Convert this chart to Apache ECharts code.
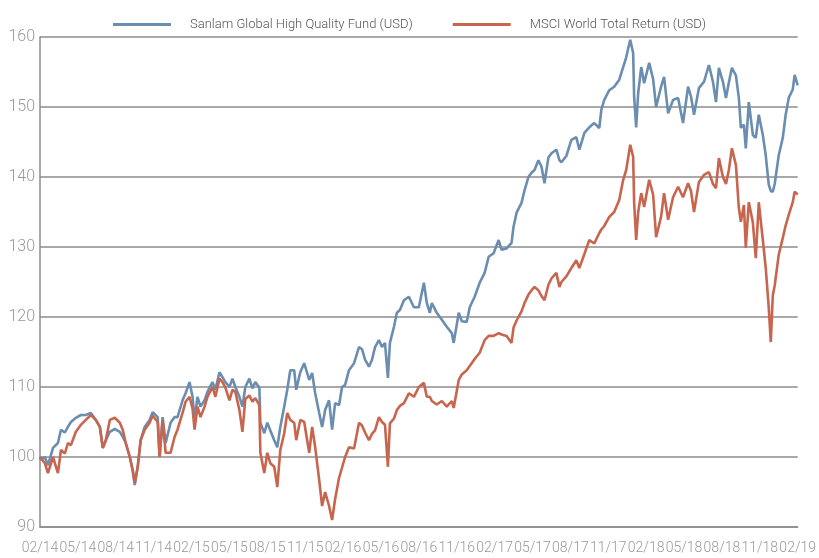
<!DOCTYPE html>
<html>
<head>
<meta charset="utf-8">
<script src="https://cdn.jsdelivr.net/npm/echarts@6/dist/echarts.min.js"></script>
<style>
  html, body { margin: 0; padding: 0; background: #fff; }
  #app { width: 819px; height: 558px; }
</style>
</head>
<body>
<div id="app"></div>
<script>
// months since Feb 2014
const months = [
  0, 0.08, 0.39, 0.63, 1.03, 1.42, 1.66, 1.97, 2.21, 2.45, 2.84, 3.24, 3.63, 4.03, 4.42, 4.74, 4.97, 5.21,
  5.53, 5.92, 6.32, 6.55, 6.79, 7.11, 7.34, 7.5, 7.74, 7.97, 8.29, 8.68, 8.92, 9.32, 9.47, 9.71, 9.95,
  10.34, 10.66, 10.89, 11.29, 11.53, 11.84, 12.08, 12.24, 12.47, 12.71, 13.03, 13.26, 13.66, 13.89,
  14.21, 14.45, 14.68, 15.0, 15.24, 15.47, 15.79, 16.03, 16.26, 16.58, 16.82, 17.05, 17.37, 17.45,
  17.76, 18.0, 18.24, 18.55, 18.79, 19.03, 19.34, 19.58, 19.82, 20.13, 20.29, 20.61, 20.92, 21.32,
  21.55, 21.79, 22.11, 22.34, 22.58, 22.89, 23.13, 23.37, 23.68, 23.92, 24.16, 24.47, 24.87, 25.26,
  25.5, 25.74, 26.05, 26.29, 26.53, 26.84, 27.08, 27.32, 27.55, 27.71, 28.03, 28.26, 28.5, 28.82,
  29.21, 29.61, 30.0, 30.4, 30.63, 30.87, 31.03, 31.42, 31.82, 32.21, 32.61, 32.76, 33.16, 33.4,
  33.79, 34.03, 34.42, 34.82, 35.21, 35.53, 35.92, 36.32, 36.55, 36.95, 37.34, 37.5, 37.74, 38.13,
  38.37, 38.68, 38.92, 39.16, 39.47, 39.71, 39.95, 40.26, 40.5, 40.89, 41.13, 41.29, 41.68, 42.08,
  42.47, 42.71, 43.11, 43.5, 43.89, 44.29, 44.45, 44.68, 45.08, 45.47, 45.87, 46.18, 46.42, 46.74,
  46.97, 47.05, 47.21, 47.37, 47.61, 47.84, 48.24, 48.55, 48.79, 49.18, 49.42, 49.74, 50.13, 50.53,
  50.92, 51.32, 51.55, 51.79, 52.18, 52.58, 52.97, 53.29, 53.53, 53.76, 54.08, 54.32, 54.55, 54.79,
  55.11, 55.34, 55.5, 55.74, 55.89, 56.13, 56.45, 56.68, 56.92, 57.24, 57.47, 57.71, 57.87, 58.03,
  58.18, 58.5, 58.82, 59.05, 59.29, 59.61, 59.76, 60
];

const sanlam = [
  100.0, 99.6, 100.0, 98.8, 101.3, 102.0, 103.9, 103.5, 104.3, 105.0, 105.6, 106.0, 106.0, 106.3, 105.3, 104.3, 101.3, 102.4,
  103.6, 104.0, 103.6, 102.9, 102.0, 100.0, 98.1, 96.0, 98.6, 102.4, 104.3, 105.3, 106.4, 105.7, 100.0, 105.7, 102.0,
  104.9, 105.7, 105.7, 108.1, 109.1, 110.7, 108.6, 105.3, 108.6, 107.2, 108.1, 109.3, 110.7, 109.6,
  112.1, 111.4, 110.7, 110.0, 111.2, 110.0, 108.6, 107.2, 110.0, 111.2, 109.8, 110.7, 109.9, 104.9,
  103.4, 104.9, 103.8, 102.4, 101.4, 104.3, 107.2, 109.6, 112.4, 112.4, 109.6, 112.1, 113.4, 111.0,
  112.0, 109.1, 106.3, 104.3, 106.7, 108.1, 103.9, 107.7, 107.4, 110.0, 110.3, 112.4, 113.4, 115.7,
  115.4, 113.9, 112.9, 113.9, 115.7, 116.7, 115.7, 116.3, 111.3, 116.3, 118.6, 120.6, 121.0, 122.4,
  122.9, 121.4, 121.4, 124.9, 122.0, 120.6, 122.0, 120.6, 119.6, 118.6, 117.7, 116.3, 120.6, 119.4,
  119.3, 121.4, 122.9, 124.9, 126.3, 128.6, 129.1, 131.0, 129.6, 129.8, 130.6, 132.9, 134.9, 136.3,
  138.1, 140.0, 140.6, 141.0, 142.4, 141.5, 139.1, 142.8, 143.4, 143.9, 142.4, 142.1, 143.0, 145.3,
  145.7, 143.9, 146.3, 147.1, 147.7, 147.0, 149.6, 151.0, 152.4, 152.9, 153.9, 155.7, 157.1, 159.6,
  157.7, 151.4, 147.1, 152.0, 155.7, 153.4, 156.3, 154.0, 150.0, 152.9, 154.3, 149.1, 151.0, 151.3,
  147.7, 152.9, 151.5, 148.9, 152.7, 153.6, 156.0, 153.6, 150.7, 155.6, 153.6, 151.3, 153.5, 155.6,
  154.5, 151.3, 147.0, 147.5, 144.1, 150.7, 146.0, 145.6, 148.9, 146.0, 143.1, 138.9, 138.0, 137.9,
  139.0, 143.1, 145.6, 148.9, 151.3, 152.5, 154.6, 153.1
];

const msci = [
  100.0, 99.8, 99.1, 97.7, 100.0, 97.7, 101.0, 100.5, 102.0, 101.7, 103.6, 104.6, 105.3, 106.0, 105.3, 104.3, 101.3, 102.4,
  105.3, 105.6, 104.9, 103.9, 102.0, 100.0, 98.1, 96.3, 98.6, 102.4, 103.9, 104.9, 105.9, 105.0, 100.0, 105.3, 100.6,
  100.6, 102.9, 103.9, 106.3, 107.9, 108.6, 106.9, 103.9, 107.2, 105.7, 107.2, 108.6, 110.0, 108.6,
  111.2, 110.7, 109.9, 108.1, 109.6, 109.3, 106.7, 103.6, 108.3, 108.8, 107.9, 108.4, 107.4, 100.6,
  97.7, 100.6, 99.1, 98.6, 95.7, 101.0, 103.4, 106.3, 105.3, 104.9, 102.4, 105.3, 105.0, 100.6,
  104.3, 101.4, 96.7, 93.0, 95.0, 93.0, 91.0, 94.0, 97.0, 98.5, 100.0, 101.4, 101.2, 104.9,
  104.5, 103.5, 102.4, 103.3, 103.8, 105.7, 105.0, 104.6, 98.6, 104.8, 105.5, 106.7, 107.3, 107.7,
  109.1, 108.6, 110.0, 110.6, 108.6, 108.6, 108.0, 107.5, 108.0, 107.2, 108.0, 107.0, 111.0, 111.8,
  112.4, 113.0, 114.0, 114.9, 116.7, 117.3, 117.3, 117.7, 117.5, 117.3, 116.3, 118.5, 119.5, 120.8,
  122.0, 123.2, 123.8, 124.3, 123.8, 123.0, 122.4, 124.6, 125.5, 126.3, 124.3, 125.0, 125.8, 127.0,
  128.1, 127.0, 129.0, 131.0, 130.5, 132.0, 132.5, 133.0, 134.3, 135.0, 136.7, 139.6, 141.0, 144.6,
  142.9, 136.3, 131.0, 135.0, 137.7, 135.7, 139.6, 137.5, 131.4, 134.3, 137.7, 133.9, 137.1, 138.6,
  137.1, 139.1, 138.0, 135.0, 139.3, 140.3, 140.7, 139.0, 138.4, 142.7, 140.0, 139.0, 141.0, 144.1,
  141.7, 135.6, 133.6, 136.0, 129.9, 136.4, 133.5, 128.4, 136.4, 131.0, 127.0, 121.3, 116.4, 123.1,
  124.5, 128.9, 131.3, 133.1, 134.6, 136.4, 137.9, 137.5
];

const tickLabels = [
  '02/14', '05/14', '08/14', '11/14', '02/15', '05/15', '08/15', '11/15', '02/16', '05/16', '08/16',
  '11/16', '02/17', '05/17', '08/17', '11/17', '02/18', '05/18', '08/18', '11/18', '02/19'
];

const seriesNames = ['Sanlam Global High Quality Fund (USD)', 'MSCI World Total Return (USD)'];

const font = "Roboto, 'Liberation Sans', sans-serif";

const option = {
  animation: false,
  color: ['#6a8db0', '#c8654e'],
  legend: {
    top: 13,
    left: 'center',
    itemGap: 40,
    itemWidth: 58,
    itemHeight: 3,
    icon: 'rect',
    textStyle: { fontFamily: font, fontSize: 13, fontWeight: 300, color: '#555', padding: [0, 0, 0, 14] },
    data: seriesNames
  },
  grid: { left: 40, right: 19, top: 37, bottom: 31 },
  xAxis: {
    type: 'value',
    min: 0,
    max: 60,
    interval: 3,
    axisLine: { show: true, lineStyle: { color: '#8c8c8c', width: 1.5 } },
    axisTick: { show: false },
    splitLine: { show: false },
    axisLabel: {
      showMinLabel: true,
      showMaxLabel: true,
      hideOverlap: false,
      margin: 14,
      fontFamily: font,
      fontSize: 14,
      fontWeight: 300,
      color: '#999',
      formatter: v => tickLabels[Math.round(v / 3)]
    }
  },
  yAxis: {
    type: 'value',
    min: 90,
    max: 160,
    interval: 10,
    axisLine: { show: true, lineStyle: { color: '#8c8c8c', width: 1.5 } },
    axisTick: { show: false },
    splitLine: { lineStyle: { color: '#8c8c8c', width: 1.5 } },
    axisLabel: {
      margin: 5,
      fontFamily: font,
      fontSize: 16,
      fontWeight: 300,
      color: '#999',
      padding: [5, 0, 0, 0]
    }
  },
  series: [
    {
      name: seriesNames[0],
      type: 'line',
      showSymbol: false,
      lineStyle: { width: 2.6 },
      data: months.map((m, i) => [m, sanlam[i]])
    },
    {
      name: seriesNames[1],
      type: 'line',
      showSymbol: false,
      lineStyle: { width: 2.6 },
      data: months.map((m, i) => [m, msci[i]])
    }
  ]
};

echarts.init(document.getElementById('app')).setOption(option);
</script>
</body>
</html>
